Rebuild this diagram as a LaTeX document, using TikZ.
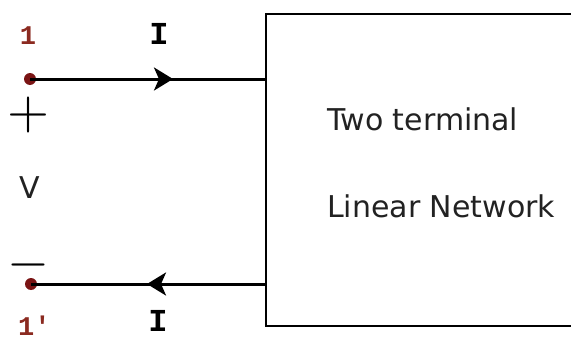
\documentclass[tikz,border=0pt]{standalone}
\usepackage{fontspec}
\setmainfont{DejaVu Sans}
\newfontfamily\monofont{Liberation Mono}
\usetikzlibrary{arrows.meta}
\definecolor{termred}{HTML}{7A1414}
\definecolor{labred}{HTML}{8B2A20}
\definecolor{txt}{HTML}{222222}
\tikzset{
  wire/.style={line width=3pt, black},
  boxline/.style={line width=2.6pt, black},
  termdot/.style={circle, fill=termred, inner sep=0pt, minimum size=12pt},
  monolab/.style={font=\monofont\bfseries\fontsize{32}{32}\selectfont, inner sep=0pt, anchor=base},
  numlab/.style={font=\monofont\bfseries\fontsize{27}{27}\selectfont, text=labred, inner sep=0pt, anchor=base},
  bigtext/.style={font=\fontsize{30}{30}\selectfont, text=txt, inner sep=0pt, anchor=base west},
  signlab/.style={font=\fontsize{10}{10}\selectfont, scale=5.4, inner sep=0pt, anchor=center},
  arr/.style={-{Stealth[length=19pt,width=23pt,inset=5pt]}}
}
\begin{document}
\begin{tikzpicture}[x=1pt,y=-1pt]
\useasboundingbox (0,0) rectangle (571,340);
\clip (0,0) rectangle (571,340);
% box (right side cut off)
\draw[boxline] (620,14) -- (266,14) -- (266,326) -- (620,326);
\coordinate (b1) at (266,79);
\coordinate (b2) at (266,284);
% terminals
\node[termdot] (t1) at (30,79) {};
\node[termdot] (t1p) at (31,284) {};
\coordinate (m1) at (173,79);
\coordinate (m2) at (147,284);
\draw[wire] (t1.center) -- (b1);
\draw[wire,arr] (t1) -- (m1);
\draw[wire] (b2) -- (t1p.center);
\draw[wire,arr] (b2) -- (m2);
% labels
\node[numlab] (n1) at (28,45) {1};
\node[numlab, anchor=base west] (n1p) at (18,335) {1'};
\node[monolab] (i1) at (159,45) {I};
\node[monolab] (i2) at (158,331) {I};
\node[signlab] (plus) at (29,115) {$+$};
\node[signlab] (minus) at (28,265) {$-$};
\node[font=\fontsize{30}{30}\selectfont, text=txt, inner sep=0pt, anchor=base] (v) at (30,198) {V};
\node[bigtext] (l1) at (327,130) {Two terminal};
\node[bigtext] (l2) at (327,217) {Linear Network};
\end{tikzpicture}
\end{document}
